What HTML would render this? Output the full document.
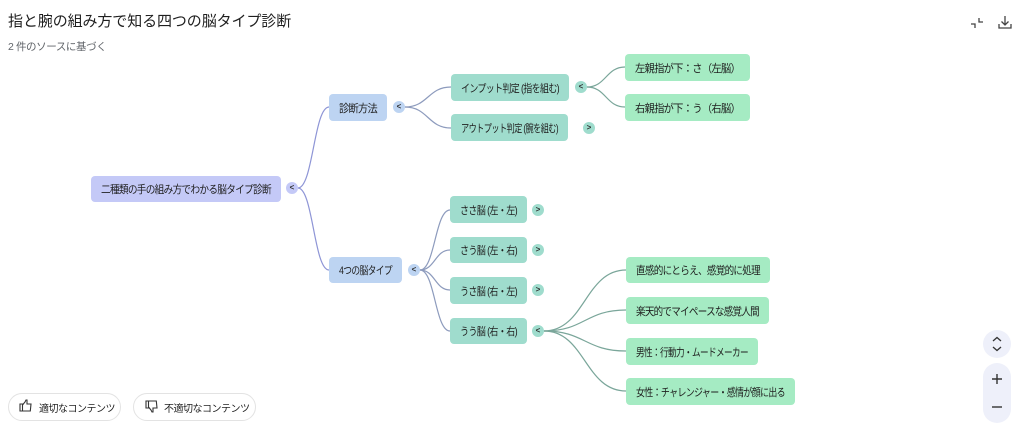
<!DOCTYPE html>
<html><head><meta charset="utf-8">
<style>
html,body{margin:0;padding:0;width:1024px;height:429px;overflow:hidden;background:#fff;font-family:"Liberation Sans","Noto Sans CJK JP",sans-serif;}
.t{position:absolute;left:8px;top:10px;font-size:15px;color:#1f1f1f;letter-spacing:-0.1px;}
.s{position:absolute;left:8px;top:39px;font-size:10.5px;color:#5f6368;letter-spacing:-0.4px;}
.n{position:absolute;display:flex;align-items:center;justify-content:flex-start;border-radius:4px;font-size:11px;color:#1f1f1f;white-space:nowrap;letter-spacing:-0.8px;overflow:hidden;}
.n span{display:inline-block;margin-left:10px;transform-origin:0 50%;}
.r{background:#c4c9f7;}
.b{background:#bdd4f2;}
.g{background:#9fdccd;}
.l{background:#a5ebc3;}
.k{position:absolute;width:12px;height:12px;border-radius:50%;font-size:8px;font-weight:bold;color:#333;display:flex;align-items:center;justify-content:center;line-height:1;}
.btn{position:absolute;top:393px;height:26px;border:1px solid #e3e3e3;border-radius:14px;font-size:10px;color:#1f1f1f;display:flex;align-items:center;letter-spacing:-0.5px;}
</style></head><body>
<div class="t">指と腕の組み方で知る四つの脳タイプ診断</div>
<div class="s">2 件のソースに基づく</div>

<svg width="1024" height="429" style="position:absolute;left:0;top:0" xmlns="http://www.w3.org/2000/svg">
<g fill="none" stroke-width="1.2">
<path d="M298 188 C313 188 314 107 329 107" stroke="#8e95d6"/>
<path d="M298 188 C313 188 314 270 329 270" stroke="#8e95d6"/>
<path d="M405 107 C428 107 428 87 451 87" stroke="#8d9bbd"/>
<path d="M405 107 C428 107 428 128 451 128" stroke="#8d9bbd"/>
<path d="M587 87 C606 87 606 67 625 67" stroke="#7aa69a"/>
<path d="M587 87 C606 87 606 107 625 107" stroke="#7aa69a"/>
<path d="M420 270 C435 270 435 210 450 210" stroke="#8d9bbd"/>
<path d="M420 270 C435 270 435 250 450 250" stroke="#8d9bbd"/>
<path d="M420 270 C435 270 435 290 450 290" stroke="#8d9bbd"/>
<path d="M420 270 C435 270 435 331 450 331" stroke="#8d9bbd"/>
<path d="M544 331 C585 331 585 270 626 270" stroke="#7aa69a"/>
<path d="M544 331 C585 331 585 310 626 310" stroke="#7aa69a"/>
<path d="M544 331 C585 331 585 351 626 351" stroke="#7aa69a"/>
<path d="M544 331 C585 331 585 391 626 391" stroke="#7aa69a"/>
</g>
<!-- top right icons -->
<g stroke="#444" stroke-width="1.3" fill="none">
<path d="M971 24 L975 24 L975 28"/>
<path d="M983 22 L979 22 L979 18"/>
<path d="M1005 16 L1005 25 M1001.5 21.5 L1005 25 L1008.5 21.5"/>
<path d="M999 24 L999 28 L1011 28 L1011 24"/>
</g>
<!-- zoom controls -->
<circle cx="997" cy="344" r="14" fill="#eef0fa"/>
<path d="M993 341 L997 337.5 L1001 341 M993 347 L997 350.5 L1001 347" stroke="#333" stroke-width="1.3" fill="none"/>
<rect x="983" y="363" width="28" height="60" rx="14" fill="#eef0fa"/>
<path d="M992 379 L1002 379 M997 374 L997 384" stroke="#333" stroke-width="1.4"/>
<path d="M992 407 L1002 407" stroke="#333" stroke-width="1.4"/>
<!-- thumbs -->
<g stroke="#333" stroke-width="1.1" fill="none">
<path d="M20 404 L22.5 404 L22.5 411 L20 411 Z"/>
<path d="M22.5 405 L25 402 L26 400 L27 400 L27 404 L31 404 L30.3 411 L22.5 411"/>
<path d="M146 408 L148.5 408 L148.5 401 L146 401 Z"/>
<path d="M148.5 407 L151 410 L152 412 L153 412 L153 408 L157 408 L156.3 401 L148.5 401"/>
</g>
</svg>

<div class="n r" style="left:91px;top:176px;width:190px;height:26px;"><span>二種類の手の組み方でわかる脳タイプ診断</span></div>
<div class="k" style="left:286px;top:182px;background:#c4c9f7;">&lt;</div>

<div class="n b" style="left:329px;top:94px;width:58px;height:27px;"><span>診断方法</span></div>
<div class="k" style="left:393px;top:101px;background:#bdd4f2;">&lt;</div>

<div class="n b" style="left:329px;top:257px;width:73px;height:26px;"><span>4つの脳タイプ</span></div>
<div class="k" style="left:408px;top:264px;background:#bdd4f2;">&lt;</div>

<div class="n g" style="left:451px;top:74px;width:118px;height:27px;"><span>インプット判定 (指を組む)</span></div>
<div class="k" style="left:575px;top:81px;background:#9fdccd;">&lt;</div>
<div class="n g" style="left:451px;top:114px;width:117px;height:27px;"><span>アウトプット判定 (腕を組む)</span></div>
<div class="k" style="left:583px;top:122px;background:#9fdccd;">&gt;</div>

<div class="n l" style="left:625px;top:54px;width:125px;height:27px;"><span>左親指が下：さ（左脳）</span></div>
<div class="n l" style="left:625px;top:94px;width:125px;height:27px;"><span>右親指が下：う（右脳）</span></div>

<div class="n g" style="left:450px;top:196px;width:77px;height:27px;"><span>ささ脳 (左・左)</span></div>
<div class="k" style="left:532px;top:204px;background:#9fdccd;">&gt;</div>
<div class="n g" style="left:450px;top:237px;width:77px;height:26px;"><span>さう脳 (左・右)</span></div>
<div class="k" style="left:532px;top:244px;background:#9fdccd;">&gt;</div>
<div class="n g" style="left:450px;top:277px;width:77px;height:27px;"><span>うさ脳 (右・左)</span></div>
<div class="k" style="left:532px;top:284px;background:#9fdccd;">&gt;</div>
<div class="n g" style="left:450px;top:318px;width:77px;height:26px;"><span>うう脳 (右・右)</span></div>
<div class="k" style="left:532px;top:325px;background:#9fdccd;">&lt;</div>

<div class="n l" style="left:626px;top:257px;width:144px;height:26px;"><span>直感的にとらえ、感覚的に処理</span></div>
<div class="n l" style="left:626px;top:297px;width:143px;height:27px;"><span>楽天的でマイペースな感覚人間</span></div>
<div class="n l" style="left:626px;top:338px;width:132px;height:27px;"><span>男性：行動力・ムードメーカー</span></div>
<div class="n l" style="left:626px;top:378px;width:169px;height:27px;"><span>女性：チャレンジャー・感情が顔に出る</span></div>

<div class="btn" style="left:8px;width:111px;"><span style="margin-left:30px;">適切なコンテンツ</span></div>
<div class="btn" style="left:133px;width:121px;"><span style="margin-left:30px;">不適切なコンテンツ</span></div>
<script>
(function(){
  var ns=document.querySelectorAll('.n span');
  for(var i=0;i<ns.length;i++){
    var s=ns[i];var box=s.parentNode;
    var target=box.clientWidth-20;
    var w=s.getBoundingClientRect().width;
    if(w>0){
      var k=target/w; if(k<0.7)k=0.7; if(k>1.15)k=1.15;
      s.style.transform='scaleX('+k+')';
    }
  }
})();
</script>
</body></html>
